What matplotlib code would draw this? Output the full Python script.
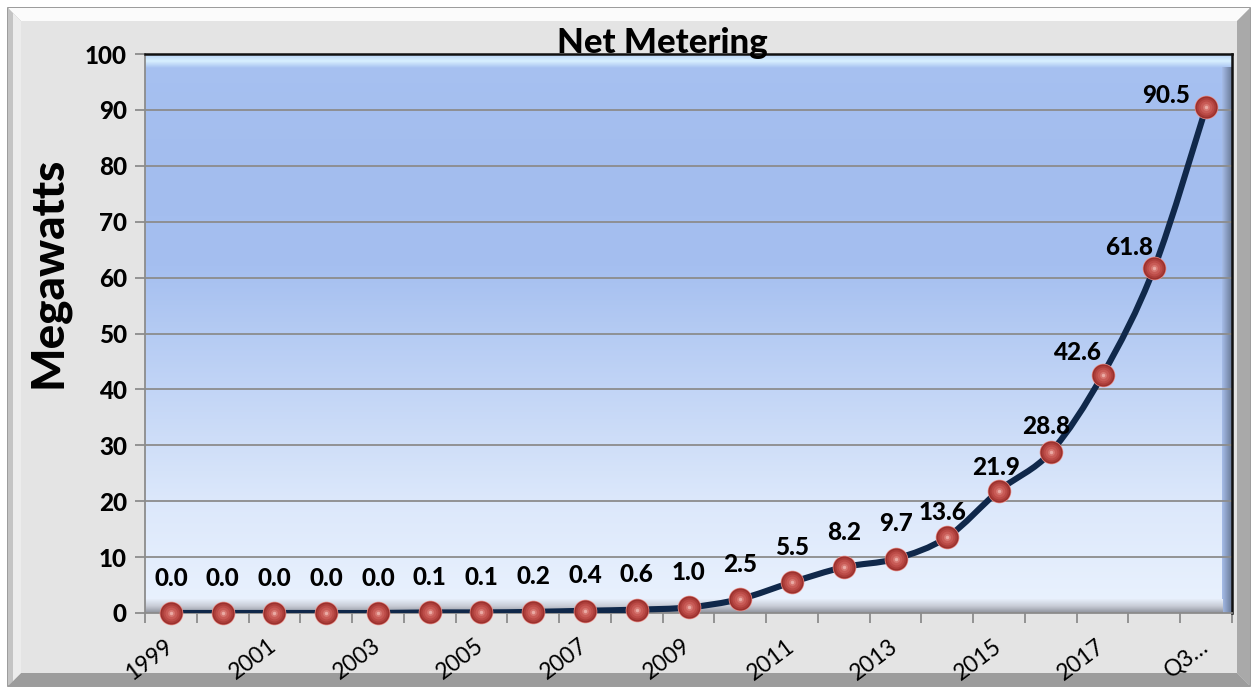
import numpy as np
import matplotlib.pyplot as plt
from matplotlib.path import Path
from matplotlib.patches import PathPatch, Polygon, Rectangle
from matplotlib.colors import LinearSegmentedColormap

plt.rcParams['font.family'] = ['Lato', 'DejaVu Sans']

# data
categories = ['1999', '2000', '2001', '2002', '2003', '2004', '2005', '2006', '2007',
              '2008', '2009', '2010', '2011', '2012', '2013', '2014', '2015', '2016',
              '2017', '2018', 'Q3…']
megawatts = [0.0, 0.0, 0.0, 0.0, 0.0, 0.1, 0.1, 0.2, 0.4, 0.6, 1.0, 2.5, 5.5, 8.2,
             9.7, 13.6, 21.9, 28.8, 42.6, 61.8, 90.5]
y_ticks = [0, 10, 20, 30, 40, 50, 60, 70, 80, 90, 100]

W, H = 1255, 688
fig = plt.figure(figsize=(W / 100, H / 100), dpi=100)
fig.patch.set_facecolor('white')

# outer frame with bevel (pixel coords -> figure coords)
def px(x, y):
    return (x / W, 1 - y / H)

x0, y0, x1, y1, b = 8, 8, 1250, 686, 13
fig.patches.append(Rectangle(px(x0, y1), (x1 - x0) / W, (y1 - y0) / H,
                             transform=fig.transFigure, facecolor='#e4e4e4',
                             edgecolor='#8a8a8a', lw=1.2, zorder=-3))
bevels = [
    ([(x0, y0), (x1, y0), (x1 - b, y0 + b), (x0 + b, y0 + b)], '#fbfbfb'),
    ([(x0, y0), (x0 + b, y0 + b), (x0 + b, y1 - b), (x0, y1)], '#c4c4c4'),
    ([(x1, y0), (x1, y1), (x1 - b, y1 - b), (x1 - b, y0 + b)], '#a9a9a9'),
    ([(x0, y1), (x1, y1), (x1 - b, y1 - b), (x0 + b, y1 - b)], '#9c9c9c'),
]
for pts, c in bevels:
    fig.patches.append(Polygon([px(*p) for p in pts], closed=True,
                               transform=fig.transFigure, facecolor=c,
                               edgecolor='none', zorder=-2))
# inner edge of left bevel lighter
fig.patches.append(Polygon([px(x0 + 5, y0 + 5), px(x0 + b, y0 + b), px(x0 + b, y1 - b), px(x0 + 5, y1 - 5)],
                           closed=True, transform=fig.transFigure, facecolor='#ececec',
                           edgecolor='none', zorder=-1))

ax = fig.add_axes([145 / W, 75 / H, 1087 / W, 559 / H])
ax.set_facecolor('none')
n = len(megawatts)
xs = np.arange(n)

# plot area gradient
grad = np.linspace(0, 1, 256).reshape(-1, 1)
cmap = LinearSegmentedColormap.from_list('pa', [(0, '#eaf2fe'), (0.2, '#dce8fb'), (0.4, '#c2d5f6'),
                                                (0.62, '#a5bff0'), (0.8, '#a3bdee'), (1.0, '#a7c1f1')])
ax.imshow(grad, cmap=cmap, origin='lower', aspect='auto', extent=[0, 1, 0, 1],
          transform=ax.transAxes, zorder=0)
# inner bevels of plot area
top_band = LinearSegmentedColormap.from_list('tb', ['#a7c1f1', '#d8f0ff', '#b8d2f6'])
ax.imshow(np.linspace(0, 1, 64).reshape(-1, 1), cmap=top_band, origin='lower', aspect='auto',
          extent=[0, 1, 0.975, 1], transform=ax.transAxes, zorder=0.2)
right_band = LinearSegmentedColormap.from_list('rb', ['#a6bde8', '#6a7a98'])
ax.imshow(np.linspace(0, 1, 64).reshape(1, -1), cmap=right_band, aspect='auto',
          extent=[0.991, 1, 0, 0.975], transform=ax.transAxes, zorder=0.2)
bottom_band = LinearSegmentedColormap.from_list('bb', ['#8e929c', '#c8ccd6', '#e6eefa'])
ax.imshow(np.linspace(0, 1, 64).reshape(-1, 1), cmap=bottom_band, origin='lower', aspect='auto',
          extent=[0, 0.991, 0, 0.025], transform=ax.transAxes, zorder=0.2)

ax.set_xlim(-0.5, n - 0.5)
ax.set_ylim(0, 100)

# gridlines
for v in y_ticks[1:-1]:
    ax.axhline(v, color='#8c8c8c', lw=1.3, zorder=1)

for s in ['top', 'right']:
    ax.spines[s].set_color('#111111')
    ax.spines[s].set_linewidth(1.8)
for s in ['left', 'bottom']:
    ax.spines[s].set_color('#8c8c8c')
    ax.spines[s].set_linewidth(1.3)

# smoothed line through the points (cubic Bezier segments)
pts = np.column_stack([xs, megawatts]).astype(float)
verts = [pts[0]]
codes = [Path.MOVETO]
for i in range(n - 1):
    p0 = pts[max(i - 1, 0)]
    p1 = pts[i]
    p2 = pts[i + 1]
    p3 = pts[min(i + 2, n - 1)]
    verts += [p1 + (p2 - p0) / 6, p2 - (p3 - p1) / 6, p2]
    codes += [Path.CURVE4] * 3
ax.add_patch(PathPatch(Path(verts, codes), facecolor='none', edgecolor='#10284a',
                       lw=4.4, capstyle='round', joinstyle='round', zorder=3))

# sphere-like markers
for ms, col, a in [(17, '#e9908a', 1), (16, '#9a302d', 1), (14, '#ab3d39', 1),
                   (11.5, '#bb4b47', 1), (8.5, '#c85b56', 1), (5, '#d87a74', 0.9),
                   (2.5, '#f0b8b2', 0.8)]:
    ax.plot(xs, megawatts, 'o', ms=ms, mfc=col, mec='none', alpha=a, zorder=4, clip_on=False)

# data labels
label_offsets = [(0, 35)] * 15 + [(-5, 24), (-3, 23), (-5, 26), (-26, 22), (-25, 20), (-40, 12)]
for x, v, (dx, dy) in zip(xs, megawatts, label_offsets):
    ax.annotate(f'{v:.1f}', (x, v), xytext=(dx * 0.72, dy * 0.72), textcoords='offset points',
                ha='center', va='center', fontsize=17.5, fontweight='black', color='black', zorder=7)

# axes ticks
ax.set_yticks(y_ticks)
ax.set_yticklabels([str(v) for v in y_ticks], fontsize=17.5, fontweight='black')
ax.tick_params(axis='y', length=7, width=1.3, color='#8c8c8c', pad=6)

ax.set_xticks(np.arange(n + 1) - 0.5)
ax.set_xticklabels([])
ax.tick_params(axis='x', which='major', length=7, width=1.3, color='#8c8c8c')
ax.set_xticks(xs[::2], minor=True)
ax.set_xticklabels(categories[::2], minor=True, fontsize=16.5, rotation=37,
                   ha='right', va='center', rotation_mode='anchor')
ax.tick_params(axis='x', which='minor', length=0, pad=22)

ax.set_ylabel('Megawatts', fontsize=33, fontweight='black')
ax.yaxis.set_label_coords(-0.069, 0.61)

fig.text(662 / W, 1 - 53 / H, 'Net Metering', ha='center', va='baseline',
         fontsize=25, fontweight='black', zorder=10)

fig.savefig('out.png', dpi=100)
